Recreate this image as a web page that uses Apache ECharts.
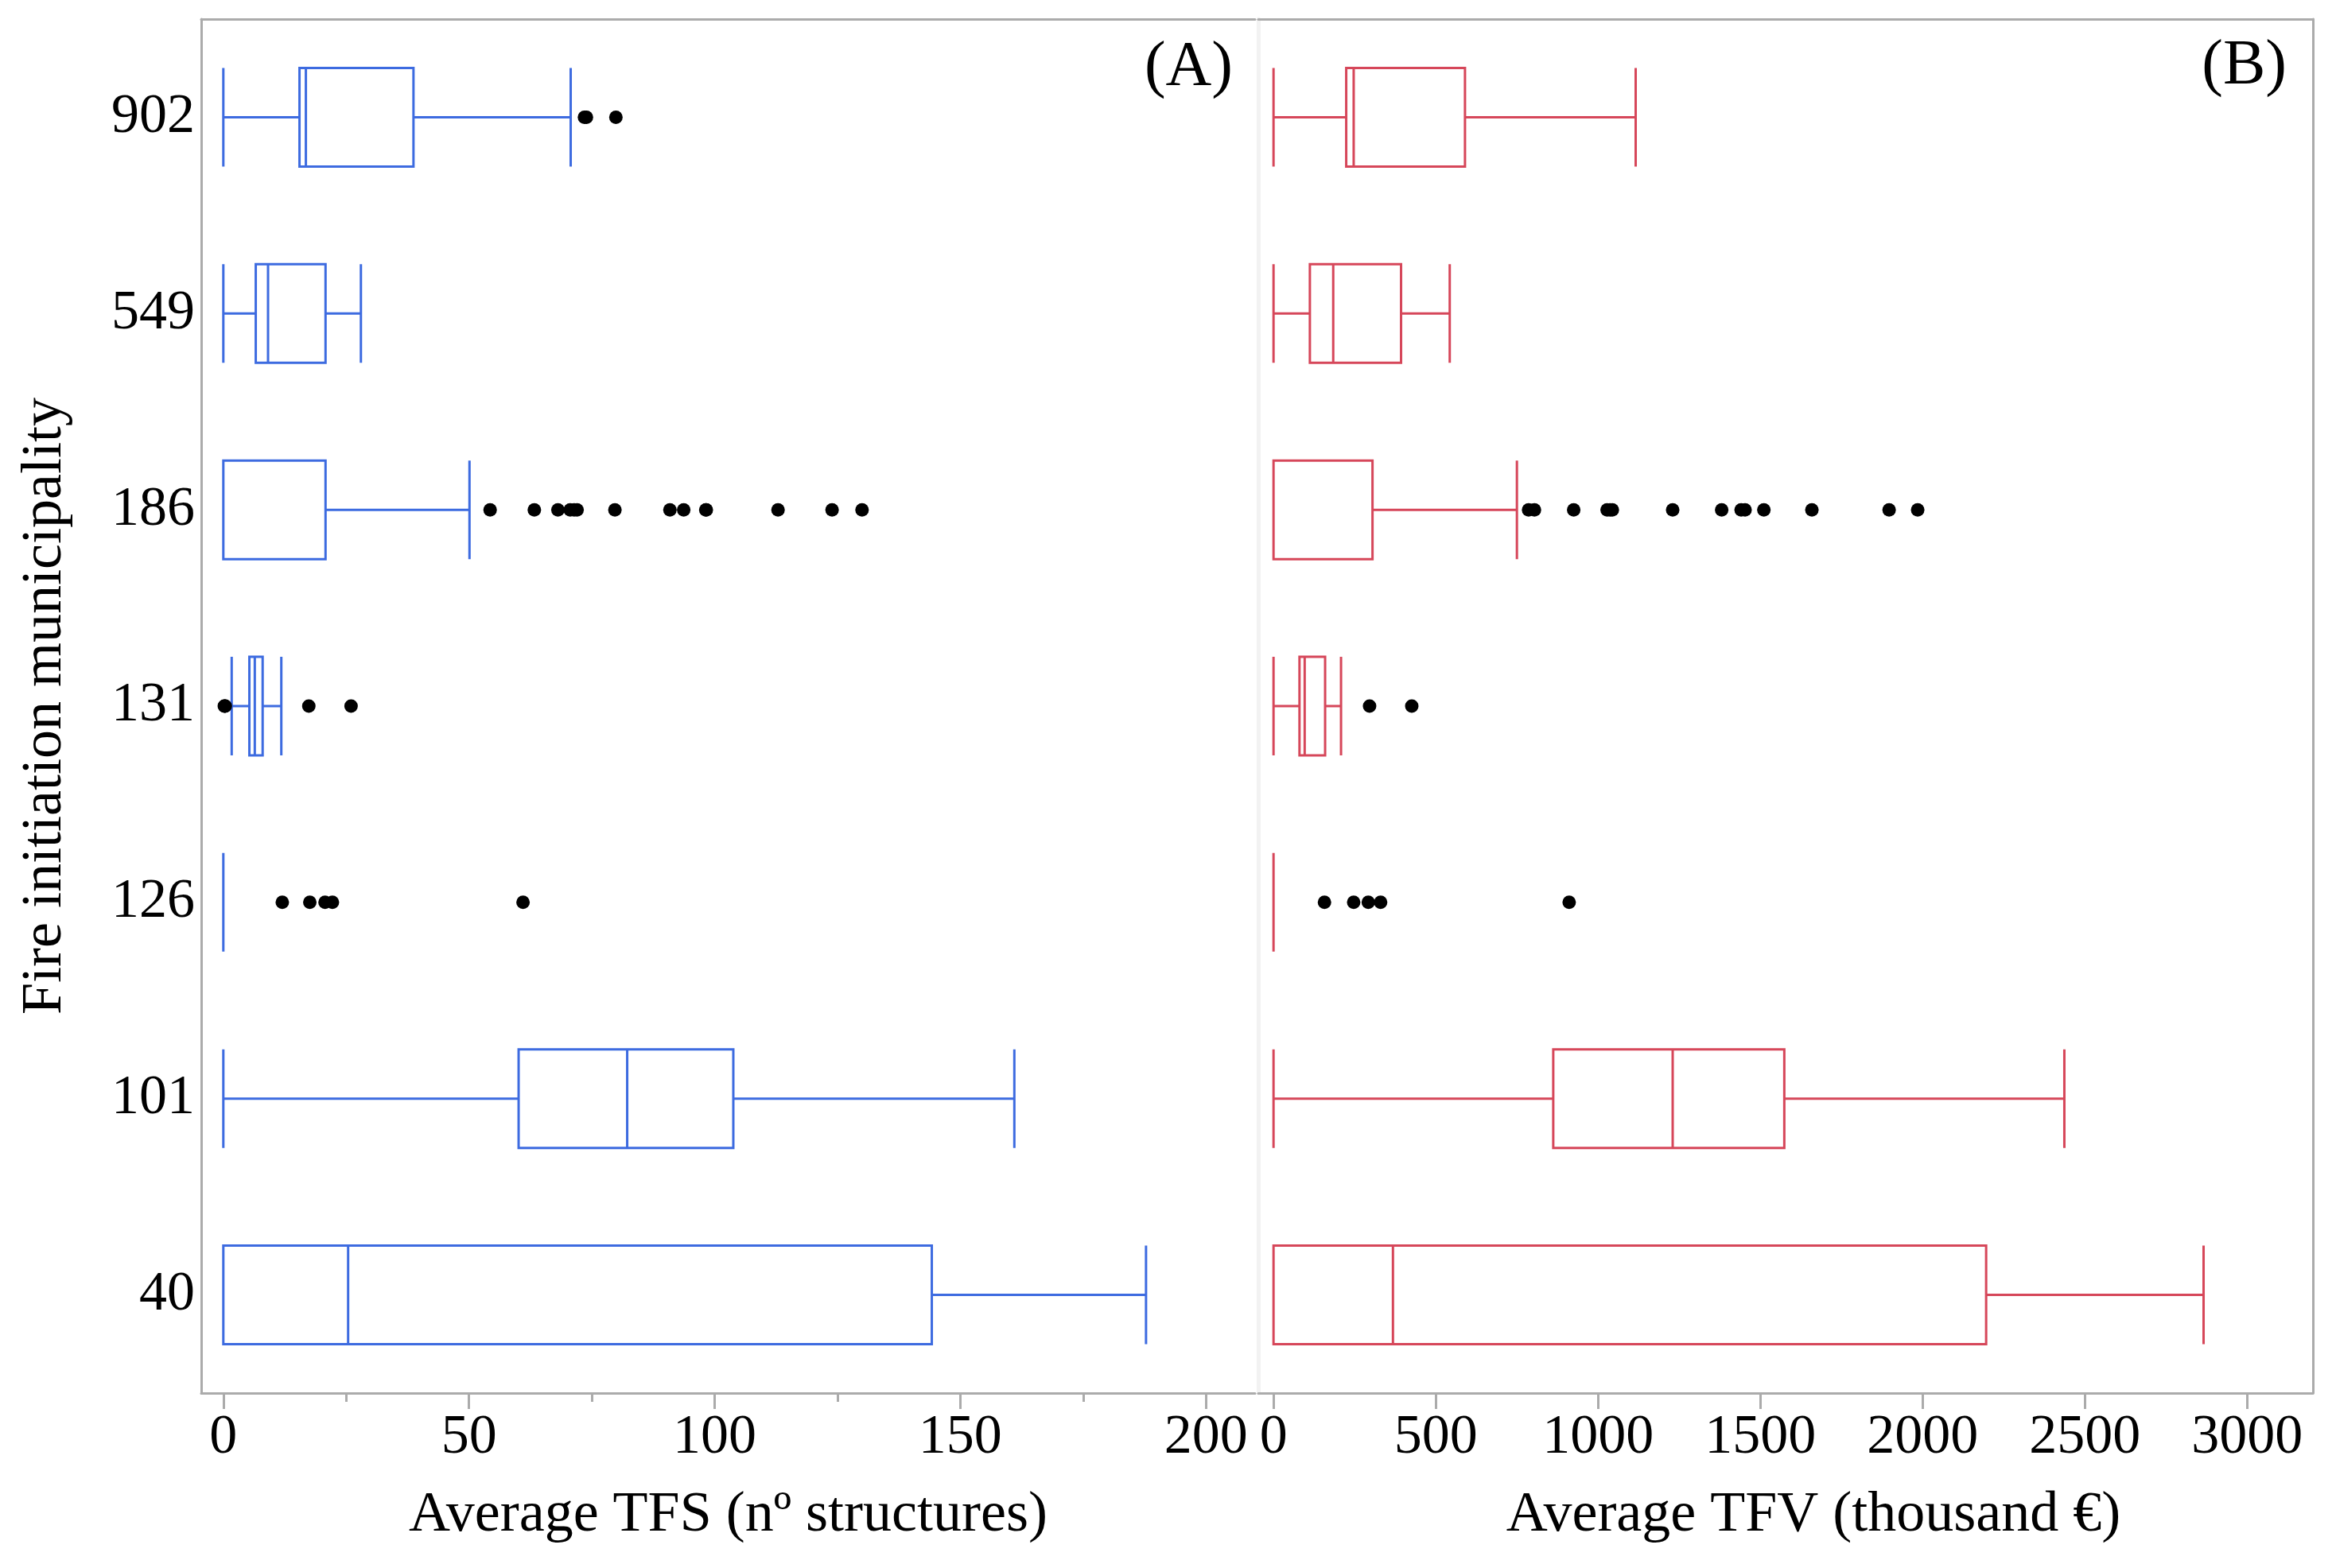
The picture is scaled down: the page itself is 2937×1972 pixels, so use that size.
<!DOCTYPE html>
<html>
<head>
<meta charset="utf-8">
<script src="https://cdn.jsdelivr.net/npm/echarts@6/dist/echarts.min.js"></script>
<style>
  html, body { margin: 0; padding: 0; background: #fff; }
  #chart { width: 2937px; height: 1972px; }
</style>
</head>
<body>
<div id="chart"></div>
<script>
// categories, bottom to top
var municipalities = ['40', '101', '126', '131', '186', '549', '902'];

// box stats per municipality: [min, Q1, median, Q3, max]
var tfsBoxes = [
  [0, 0, 25.4, 144.2, 187.8],
  [0, 60.1, 82.2, 103.8, 161.0],
  [0, 0, 0, 0, 0],
  [1.7, 5.3, 6.4, 8.0, 11.8],
  [0, 0, 0, 20.8, 50.1],
  [0, 6.6, 9.1, 20.8, 28.0],
  [0, 15.5, 16.8, 38.7, 70.7]
];
var tfvBoxes = [
  [0, 0, 368, 2196, 2866],
  [0, 862, 1230, 1574, 2437],
  [0, 0, 0, 0, 0],
  [0, 80, 96, 159, 208],
  [0, 0, 0, 305, 750],
  [0, 112, 184, 393, 543],
  [0, 224, 247, 590, 1116]
];

// outliers per municipality
var tfsOutliers = [
  [],
  [],
  [12.0, 17.6, 20.7, 22.2, 61.0],
  [0.2, 0.3, 0.4, 17.4, 26.0],
  [54.3, 63.3, 68.1, 70.6, 71.4, 72.0, 79.7, 90.9, 93.7, 98.2, 98.3, 112.9, 123.9, 130.0],
  [],
  [73.5, 73.9, 79.9]
];
var tfvOutliers = [
  [],
  [],
  [157, 247, 292, 330, 911],
  [296, 426],
  [786, 804, 925, 1028, 1037, 1044, 1230, 1381, 1441, 1453, 1511, 1659, 1897, 1985],
  [],
  []
];

var tfsTicks = [0, 50, 100, 150, 200];
var tfsMinorTicks = [25, 75, 125, 175];
var tfvTicks = [0, 500, 1000, 1500, 2000, 2500, 3000];

var FONT = 'Liberation Serif';
var AXIS_GRAY = '#ababab';
var BLUE = '#3d6be0';
var RED = '#d6475a';

function toPoints(outliers) {
  var pts = [];
  outliers.forEach(function (list, i) {
    list.forEach(function (v) { pts.push([v, i]); });
  });
  return pts;
}

function plain(v) { return String(v); }

var chart = echarts.init(document.getElementById('chart'));

var lineOnly = { show: true, onZero: false, lineStyle: { color: AXIS_GRAY, width: 3 } };
var labelStyle = { fontFamily: FONT, fontSize: 70, color: '#000' };
var nameStyle = { fontFamily: FONT, fontSize: 72, color: '#000' };

chart.setOption({
  animation: false,
  textStyle: { fontFamily: FONT },
  title: [
    { text: '(A)', right: 1387, top: 46, padding: 0,
      textStyle: { fontFamily: FONT, fontSize: 80, fontWeight: 'normal', color: '#000' } },
    { text: '(B)', right: 62, top: 44, padding: 0,
      textStyle: { fontFamily: FONT, fontSize: 80, fontWeight: 'normal', color: '#000' } }
  ],
  grid: [
    { left: 253, top: 24, width: 1325, height: 1728, outerBoundsMode: 'none' },
    { left: 1582, top: 24, width: 1326, height: 1728, outerBoundsMode: 'none' },
    { left: 253, top: 24, width: 1325, height: 1728, outerBoundsMode: 'none' }
  ],
  xAxis: [
    {
      gridIndex: 0, type: 'value', min: -4.5, max: 210, position: 'bottom',
      axisLine: lineOnly,
      axisTick: { show: true, customValues: tfsTicks, length: 20, lineStyle: { color: AXIS_GRAY, width: 3 } },
      axisLabel: Object.assign({ customValues: tfsTicks, margin: 22, formatter: plain }, labelStyle),
      splitLine: { show: false },
      name: 'Average TFS (nº structures)', nameLocation: 'middle', nameGap: 118,
      nameTextStyle: nameStyle
    },
    {
      gridIndex: 0, type: 'value', min: -4.5, max: 210, position: 'top',
      axisLine: lineOnly, axisTick: { show: false }, axisLabel: { show: false },
      splitLine: { show: false }
    },
    {
      gridIndex: 2, type: 'value', min: -4.5, max: 210, position: 'bottom',
      axisLine: { show: false, onZero: false },
      axisTick: { show: true, customValues: tfsMinorTicks, length: 11, lineStyle: { color: AXIS_GRAY, width: 3 } },
      axisLabel: { show: false }, splitLine: { show: false }
    },
    {
      gridIndex: 1, type: 'value', min: -47, max: 3203, position: 'bottom',
      axisLine: lineOnly,
      axisTick: { show: true, customValues: tfvTicks, length: 20, lineStyle: { color: AXIS_GRAY, width: 3 } },
      axisLabel: Object.assign({ customValues: tfvTicks, margin: 22, formatter: plain }, labelStyle),
      splitLine: { show: false },
      name: 'Average TFV (thousand €)', nameLocation: 'middle', nameGap: 118,
      nameTextStyle: Object.assign({ padding: [0, 0, 0, 70] }, nameStyle)
    },
    {
      gridIndex: 1, type: 'value', min: -47, max: 3203, position: 'top',
      axisLine: lineOnly, axisTick: { show: false }, axisLabel: { show: false },
      splitLine: { show: false }
    }
  ],
  yAxis: [
    {
      gridIndex: 0, type: 'category', data: municipalities, position: 'left',
      axisLine: lineOnly, axisTick: { show: false },
      axisLabel: Object.assign({ margin: 8 }, labelStyle),
      name: 'Fire initiation municipality', nameLocation: 'middle', nameGap: 160,
      nameTextStyle: nameStyle
    },
    {
      gridIndex: 1, type: 'category', data: municipalities, position: 'left',
      axisLine: { show: true, onZero: false, lineStyle: { color: '#f2f2f2', width: 5 } },
      axisTick: { show: false }, axisLabel: { show: false }
    },
    {
      gridIndex: 1, type: 'category', data: municipalities, position: 'right',
      axisLine: lineOnly, axisTick: { show: false }, axisLabel: { show: false }
    },
    {
      gridIndex: 2, type: 'category', data: municipalities, show: false
    }
  ],
  series: [
    {
      name: 'TFS', type: 'boxplot', xAxisIndex: 0, yAxisIndex: 0,
      data: tfsBoxes, boxWidth: [124, 124], silent: true,
      itemStyle: { color: 'rgba(0,0,0,0)', borderColor: BLUE, borderWidth: 3 }
    },
    {
      name: 'TFS outliers', type: 'scatter', xAxisIndex: 0, yAxisIndex: 0,
      data: toPoints(tfsOutliers), symbolSize: 17, silent: true, z: 5,
      itemStyle: { color: '#000', opacity: 1 }
    },
    {
      name: 'TFV', type: 'boxplot', xAxisIndex: 3, yAxisIndex: 1,
      data: tfvBoxes, boxWidth: [124, 124], silent: true,
      itemStyle: { color: 'rgba(0,0,0,0)', borderColor: RED, borderWidth: 3 }
    },
    {
      name: 'TFV outliers', type: 'scatter', xAxisIndex: 3, yAxisIndex: 1,
      data: toPoints(tfvOutliers), symbolSize: 17, silent: true, z: 5,
      itemStyle: { color: '#000', opacity: 1 }
    }
  ]
});

window.onresize = function () {
  chart.resize();
};
</script>
</body>
</html>
